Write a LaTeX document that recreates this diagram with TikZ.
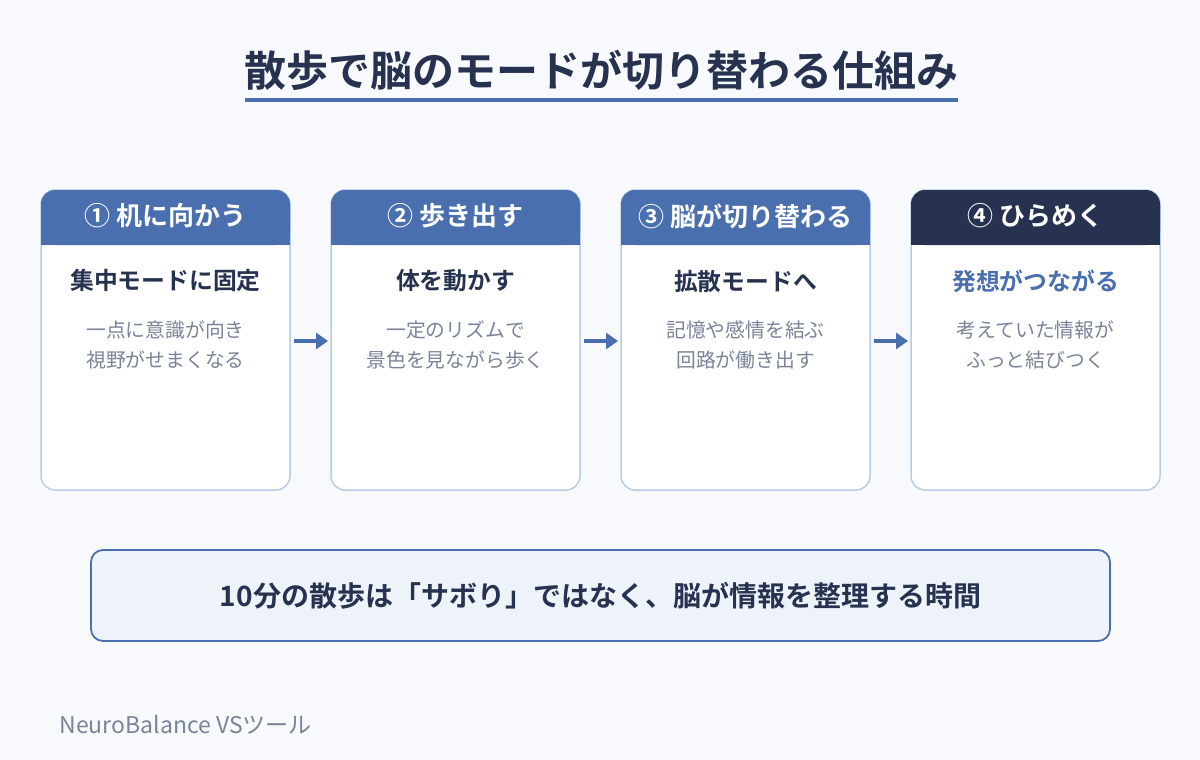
\documentclass[tikz,border=0pt]{standalone}
\usepackage{fontspec}
\setmainfont{Noto Sans CJK JP}
\newfontfamily\jpb{Noto Sans CJK JP Bold}
\usetikzlibrary{arrows.meta}
\definecolor{bg}{HTML}{F7F9FC}
\definecolor{blu}{HTML}{4A6FAE}
\definecolor{navy}{HTML}{26324F}
\definecolor{bord}{HTML}{B8CBE8}
\definecolor{gry}{HTML}{7A8499}
\definecolor{pale}{HTML}{EEF3FA}
\tikzset{
  cardbody/.style={draw=bord, line width=1.5pt, fill=white, rounded corners=14pt},
  hdrtext/.style={text=white, font=\jpb\fontsize{26}{30}\selectfont, anchor=center},
  maintext/.style={text=navy, font=\jpb\fontsize{23.8}{28}\selectfont, anchor=center},
  subtext/.style={text=gry, font=\fontsize{19.8}{30}\selectfont, align=center, anchor=center},
  flow/.style={draw=blu, line width=3.5pt, -{Triangle[length=12pt,width=16pt]}}
}
\begin{document}
\begin{tikzpicture}[x=1pt,y=-1pt]
\fill[bg] (0,0) rectangle (1200,760);
\useasboundingbox (0,0) rectangle (1200,760);
% title
\node[text=navy, font=\jpb\fontsize{42}{48}\selectfont] (title) at (601,70) {散歩で脳のモードが切り替わる仕組み};
\fill[blu] (245,98) rectangle (958,102);
% cards
\foreach \i/\x/\hc/\hd/\mt/\mc/\sa/\sb in {
  1/41/blu/① 机に向かう/集中モードに固定/navy/一点に意識が向き/視野がせまくなる,
  2/331/blu/② 歩き出す/体を動かす/navy/一定のリズムで/景色を見ながら歩く,
  3/621/blu/③ 脳が切り替わる/拡散モードへ/navy/記憶や感情を結ぶ/回路が働き出す,
  4/911/navy/④ ひらめく/発想がつながる/blu/考えていた情報が/ふっと結びつく}{
  \draw[cardbody] (\x,190) rectangle (\x+249,490);
  \fill[\hc, rounded corners=14pt] (\x,245) -- (\x,190) -- (\x+249,190) -- (\x+249,245) -- cycle;
  \fill[\hc] (\x,230) rectangle (\x+249,245);
  \node[hdrtext] (h\i) at (\x+124.5,216) {\hd};
  \node[maintext, text=\mc] (m\i) at (\x+124.5,281) {\mt};
  \node[subtext] (s\i) at (\x+124.5,345) {\sa\\\sb};
  \coordinate (r\i) at (\x+253,341);
  \coordinate (l\i) at (\x-3,341);
}
\draw[flow] (r1) -- (l2);
\draw[flow] (r2) -- (l3);
\draw[flow] (r3) -- (l4);
% bottom box
\node[draw=blu, line width=1.8pt, fill=pale, rounded corners=12pt, minimum width=1019pt, minimum height=91pt, text=navy, font=\jpb\fontsize{28}{32}\selectfont] (note) at (600.5,595.5) {10分の散歩は「サボり」ではなく、脳が情報を整理する時間};
% footer
\node[anchor=west, text=gry, font=\fontsize{23}{26}\selectfont] (foot) at (56,725) {NeuroBalance VSツール};
\end{tikzpicture}
\end{document}
